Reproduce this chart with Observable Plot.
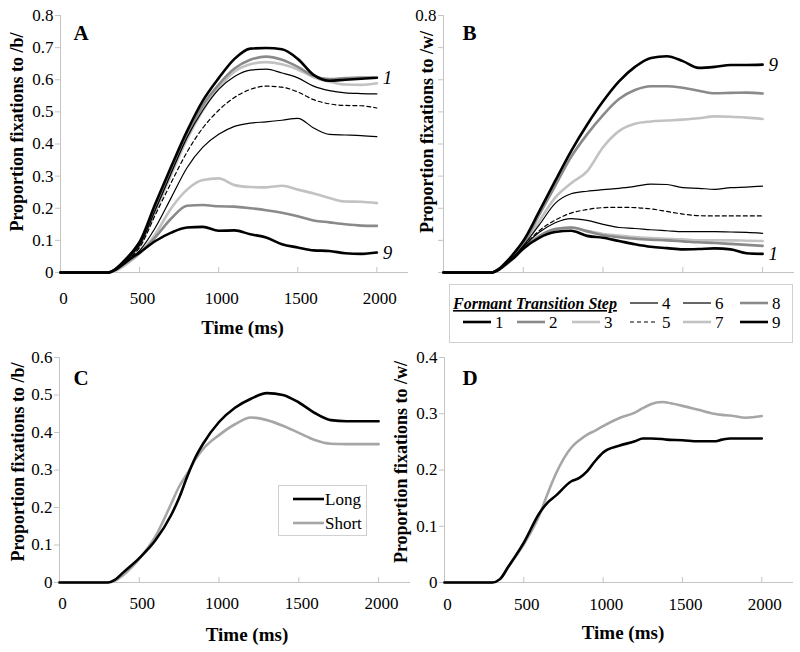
<!DOCTYPE html>
<html><head><meta charset="utf-8">
<script src="https://cdn.jsdelivr.net/npm/d3@7"></script>
<script src="https://cdn.jsdelivr.net/npm/@observablehq/plot@0.6"></script>
<style>
body{margin:0;background:#fff;}
#wrap{position:relative;width:800px;height:652px;overflow:hidden;background:#fff;}
#wrap svg{position:absolute;overflow:visible;}
</style></head><body><div id="wrap"></div>
<script>
// ---------- data ----------
const xTicks = [0, 500, 1000, 1500, 2000];
const xTickLabels = ["0", "500", "1000", "1500", "2000"];
const yTicks08 = [0, 0.1, 0.2, 0.3, 0.4, 0.5, 0.6, 0.7, 0.8];
const yLabelsA = ["0", "0.1", "0.2", "0.3", "0.4", "0.5", "0.6", "0.7", "0.8"];
const yLabelsB = ["", "", "", "", "", "", "", "", "0.8"];
const yTicksC = [0, 0.1, 0.2, 0.3, 0.4, 0.5, 0.6];
const yLabelsC = ["0", "0.1", "0.2", "0.3", "0.4", "0.5", "0.6"];
const yTicksD = [0, 0.1, 0.2, 0.3, 0.4];
const yLabelsD = ["0", "0.1", "0.2", "0.3", "0.4"];

const steps = [1, 2, 3, 4, 5, 6, 7, 8, 9];
const durations = ["Long", "Short"];

const timeAB = [0,300,350,400,450,500,600,700,800,900,1000,1100,1200,1300,1400,1500,1600,1700,1800,1900,2000];
// Panel A: proportion fixations to /b/
const a1 = [0,0,0.012,0.035,0.062,0.095,0.215,0.33,0.44,0.535,0.605,0.665,0.697,0.699,0.695,0.665,0.615,0.597,0.6,0.603,0.606];
const a2 = [0,0,0.01,0.03,0.057,0.088,0.2,0.315,0.425,0.52,0.585,0.635,0.662,0.672,0.662,0.64,0.612,0.602,0.605,0.607,0.607];
const a3 = [0,0,0.008,0.027,0.052,0.082,0.19,0.305,0.415,0.505,0.575,0.625,0.648,0.655,0.648,0.632,0.608,0.594,0.585,0.584,0.589];
const a4 = [0,0,0.01,0.03,0.055,0.085,0.195,0.31,0.42,0.505,0.57,0.61,0.63,0.633,0.621,0.606,0.58,0.566,0.559,0.557,0.556];
const a5 = [0,0,0.009,0.028,0.05,0.078,0.18,0.28,0.375,0.45,0.505,0.545,0.57,0.58,0.577,0.562,0.538,0.525,0.52,0.519,0.512];
const a6 = [0,0,0.008,0.025,0.045,0.068,0.14,0.233,0.326,0.39,0.43,0.455,0.465,0.469,0.474,0.48,0.45,0.43,0.428,0.426,0.423];
const a7 = [0,0,0.006,0.02,0.038,0.06,0.12,0.2,0.258,0.288,0.293,0.272,0.266,0.265,0.27,0.258,0.246,0.232,0.221,0.22,0.216];
const a8 = [0,0,0.008,0.025,0.042,0.06,0.11,0.168,0.208,0.21,0.206,0.205,0.2,0.194,0.186,0.175,0.162,0.156,0.15,0.146,0.145];
const a9 = [0,0,0.01,0.028,0.046,0.062,0.098,0.124,0.14,0.142,0.13,0.131,0.119,0.109,0.088,0.078,0.069,0.067,0.06,0.058,0.062];
// Panel B: proportion fixations to /w/
const b1 = [0,0,0.01,0.03,0.05,0.074,0.108,0.126,0.13,0.114,0.108,0.098,0.088,0.08,0.076,0.072,0.073,0.075,0.072,0.06,0.058];
const b2 = [0,0,0.01,0.028,0.05,0.075,0.113,0.135,0.14,0.128,0.116,0.11,0.105,0.102,0.1,0.097,0.094,0.092,0.089,0.086,0.083];
const b3 = [0,0,0.01,0.028,0.05,0.075,0.113,0.135,0.14,0.13,0.12,0.115,0.11,0.107,0.105,0.103,0.1,0.1,0.1,0.099,0.098];
const b4 = [0,0,0.01,0.03,0.052,0.08,0.125,0.155,0.168,0.162,0.15,0.14,0.137,0.133,0.13,0.127,0.127,0.127,0.126,0.125,0.122];
const b5 = [0,0,0.01,0.03,0.052,0.08,0.13,0.163,0.185,0.196,0.202,0.203,0.202,0.198,0.19,0.182,0.177,0.176,0.176,0.176,0.176];
const b6 = [0,0,0.01,0.03,0.055,0.083,0.148,0.215,0.245,0.253,0.258,0.262,0.268,0.275,0.274,0.264,0.262,0.259,0.264,0.266,0.269];
const b7 = [0,0,0.01,0.03,0.055,0.085,0.16,0.233,0.278,0.315,0.39,0.44,0.463,0.47,0.473,0.476,0.48,0.486,0.485,0.482,0.478];
const b8 = [0,0,0.011,0.033,0.06,0.09,0.18,0.27,0.36,0.43,0.49,0.54,0.568,0.58,0.58,0.575,0.566,0.558,0.559,0.56,0.557];
const b9 = [0,0,0.012,0.036,0.065,0.098,0.19,0.285,0.378,0.46,0.533,0.595,0.64,0.668,0.673,0.658,0.637,0.64,0.646,0.646,0.647];
// Panel C: /b/ by duration
const timeC = [0,300,350,400,500,600,700,750,800,850,900,1000,1100,1200,1300,1400,1500,1600,1700,1800,1900,2000];
const cLong  = [0,0,0.008,0.027,0.065,0.112,0.18,0.226,0.282,0.332,0.37,0.428,0.466,0.49,0.505,0.5,0.48,0.452,0.433,0.43,0.43,0.43];
const cShort = [0,0,0.005,0.02,0.063,0.122,0.21,0.256,0.29,0.327,0.356,0.393,0.422,0.44,0.433,0.418,0.399,0.38,0.37,0.369,0.369,0.369];
// Panel D: /w/ by duration
const timeD = [0,300,350,400,500,600,650,700,800,850,900,950,1000,1100,1200,1250,1300,1370,1400,1500,1600,1700,1750,1800,1900,2000];
const dLong  = [0,0,0.006,0.027,0.071,0.124,0.142,0.154,0.18,0.186,0.198,0.216,0.231,0.243,0.251,0.256,0.256,0.255,0.254,0.253,0.251,0.251,0.254,0.256,0.256,0.256];
const dShort = [0,0,0.006,0.027,0.068,0.121,0.158,0.192,0.24,0.253,0.263,0.27,0.278,0.292,0.302,0.31,0.317,0.321,0.32,0.314,0.307,0.3,0.298,0.297,0.293,0.296];

// ---------- styles ----------
const FONT = '"Liberation Serif","Times New Roman",Times,serif';
const AX = "#c4c4c4";
const BLACK = "#000", GRAY = "#8a8a8a", LIGHT = "#c2c2c2", SHORTC = "#a6a6a6";
const stepStyle = {
  1: {stroke: BLACK, w: 2.6}, 2: {stroke: GRAY, w: 2.6}, 3: {stroke: LIGHT, w: 2.6},
  4: {stroke: BLACK, w: 1.2}, 5: {stroke: BLACK, w: 1.2, dash: "4,3"}, 6: {stroke: BLACK, w: 1.2},
  7: {stroke: LIGHT, w: 2.6}, 8: {stroke: GRAY, w: 2.6}, 9: {stroke: BLACK, w: 2.6}
};
const drawOrder = [3, 7, 2, 8, 1, 9, 4, 5, 6];
const durStyle = {Long: {stroke: BLACK, w: 2.6}, Short: {stroke: SHORTC, w: 2.6}};

function rows(times, vals, key) { return times.map((t, i) => ({t, v: vals[i], key})); }
const seriesA = {1:a1,2:a2,3:a3,4:a4,5:a5,6:a6,7:a7,8:a8,9:a9};
const seriesB = {1:b1,2:b2,3:b3,4:b4,5:b5,6:b6,7:b7,8:b8,9:b9};

function panel(c) {
  const fh = c.height - c.mt - c.mb;
  const marks = [
    Plot.ruleY([0], {stroke: AX}),
    Plot.ruleX([0], {stroke: AX}),
    Plot.ruleX(xTicks.slice(1), {stroke: AX, insetTop: fh - 5}),
    Plot.axisY({ticks: c.yTicks, tickFormat: d => c.yLabels[c.yTicks.indexOf(d)], tickSize: 5, tickPadding: 2,
      stroke: AX, fill: "#000", fontSize: 17, label: null}),
    Plot.axisX({ticks: xTicks, tickFormat: d => c.xLabels ? xTickLabels[xTicks.indexOf(d)] : "", tickSize: 0,
      tickPadding: c.xPad || 14, dx: 3, fill: "#000", fontSize: 17, label: null})
  ];
  for (const s of c.series) {
    marks.push(Plot.line(s.data, {x: "t", y: "v", stroke: s.stroke, strokeWidth: s.w,
      strokeDasharray: s.dash, curve: "monotone-x"}));
  }
  if (c.endLabels) marks.push(Plot.text(c.endLabels, {x: "t", y: "v", text: "label", dx: 6, textAnchor: "start",
    fontStyle: "italic", fontSize: 19, fill: "#000"}));
  marks.push(Plot.text([c.letter], {frameAnchor: "top-left", dx: c.ldx, dy: c.ldy, textAnchor: "start",
    lineAnchor: "middle", fontWeight: "bold", fontSize: 21, fill: "#000"}));
  marks.push(Plot.text([c.ylabel], {frameAnchor: "left", rotate: -90, dx: c.ydx, dy: c.ydy,
    textAnchor: "middle", lineAnchor: "middle", fontWeight: "bold", fontSize: 18, fill: "#000"}));
  if (c.xlabel) marks.push(Plot.text([c.xlabel], {frameAnchor: "bottom", dx: c.tdx, dy: c.tdy,
    textAnchor: "middle", lineAnchor: "middle", fontWeight: "bold", fontSize: 19, fill: "#000"}));
  const svg = Plot.plot({
    width: c.width, height: c.height,
    marginLeft: c.ml, marginRight: c.mr, marginTop: c.mt, marginBottom: c.mb,
    x: {domain: [0, 2200]}, y: {domain: [0, c.yMax]},
    style: {fontFamily: FONT, background: "transparent", overflow: "visible", color: "#000"},
    marks
  });
  svg.style.left = c.left + "px";
  svg.style.top = c.top + "px";
  document.getElementById("wrap").appendChild(svg);
}

function stepSeries(src) {
  return drawOrder.map(k => ({data: rows(timeAB, src[k], k), stroke: stepStyle[k].stroke, w: stepStyle[k].w, dash: stepStyle[k].dash}));
}

// Panel A
panel({left: 0, top: 0, width: 420, height: 340, ml: 60, mr: 12, mt: 15, mb: 68,
  yMax: 0.8, yTicks: yTicks08, yLabels: yLabelsA, xLabels: true, xPad: 19,
  series: stepSeries(seriesA),
  endLabels: [{t: 2000, v: a1[a1.length - 1], label: "1"}, {t: 2000, v: a9[a9.length - 1], label: "9"}],
  letter: "A", ldx: 13, ldy: 18,
  ylabel: "Proportion fixations to /b/", ydx: -43, ydy: -12,
  xlabel: "Time (ms)", tdx: 8, tdy: 55});

// Panel B
panel({left: 400, top: 0, width: 400, height: 340, ml: 43, mr: 6, mt: 15, mb: 68,
  yMax: 0.8, yTicks: yTicks08, yLabels: yLabelsB, xLabels: false,
  series: stepSeries(seriesB),
  endLabels: [{t: 2000, v: b9[b9.length - 1], label: "9"}, {t: 2000, v: b1[b1.length - 1], label: "1"}],
  letter: "B", ldx: 19, ldy: 18,
  ylabel: "Proportion fixations to /w/", ydx: -16, ydy: -12});

// Panel C
panel({left: 0, top: 330, width: 420, height: 322, ml: 59, mr: 10, mt: 27, mb: 70,
  yMax: 0.6, yTicks: yTicksC, yLabels: yLabelsC, xLabels: true, xPad: 14,
  series: [{data: rows(timeC, cShort, "Short"), ...durStyle.Short}, {data: rows(timeC, cLong, "Long"), ...durStyle.Long}],
  letter: "C", ldx: 14, ldy: 21,
  ylabel: "Proportion fixations to /b/", ydx: -41, ydy: -8,
  xlabel: "Time (ms)", tdx: 12, tdy: 52});

// Panel D
panel({left: 400, top: 330, width: 400, height: 322, ml: 44, mr: 7, mt: 27, mb: 70,
  yMax: 0.4, yTicks: yTicksD, yLabels: yLabelsD, xLabels: true, xPad: 15,
  series: [{data: rows(timeD, dShort, "Short"), ...durStyle.Short}, {data: rows(timeD, dLong, "Long"), ...durStyle.Long}],
  letter: "D", ldx: 18, ldy: 21,
  ylabel: "Proportion fixations to /w/", ydx: -43, ydy: -8,
  xlabel: "Time (ms)", tdx: 4, tdy: 50});

// ---------- legends ----------
const wrap = d3.select("#wrap");
const lg = wrap.append("svg").attr("width", 800).attr("height", 652).style("left", "0px").style("top", "0px")
  .style("font-family", FONT).style("pointer-events", "none");
// Step legend (below panel B)
lg.append("rect").attr("x", 449.5).attr("y", 284.5).attr("width", 343).attr("height", 58)
  .attr("fill", "#fff").attr("stroke", "#d0d0d0");
lg.append("text").attr("x", 453).attr("y", 309).attr("font-size", 16).attr("font-weight", "bold")
  .attr("font-style", "italic").attr("text-decoration", "underline").text("Formant Transition Step");
const legendPos = {4: [630, 303], 6: [683, 303], 8: [740, 303], 1: [463, 322], 2: [517, 322], 3: [572, 322], 5: [630, 322], 7: [683, 322], 9: [740, 322]};
for (const k of steps) {
  const [x, y] = legendPos[k], st = stepStyle[k];
  lg.append("line").attr("x1", x).attr("x2", x + 28).attr("y1", y).attr("y2", y)
    .attr("stroke", st.stroke).attr("stroke-width", st.w).attr("stroke-dasharray", st.dash || null);
  lg.append("text").attr("x", x + 32).attr("y", y + 6).attr("font-size", 17).text(String(k));
}
// Duration legend (panel C)
lg.append("rect").attr("x", 278.5).attr("y", 485.5).attr("width", 88).attr("height", 50)
  .attr("fill", "#fff").attr("stroke", "#d0d0d0");
durations.forEach((d, i) => {
  const y = 499 + i * 24;
  lg.append("line").attr("x1", 293).attr("x2", 324).attr("y1", y).attr("y2", y)
    .attr("stroke", durStyle[d].stroke).attr("stroke-width", durStyle[d].w);
  lg.append("text").attr("x", 325).attr("y", y + 6).attr("font-size", 17).text(d);
});
</script></body></html>
